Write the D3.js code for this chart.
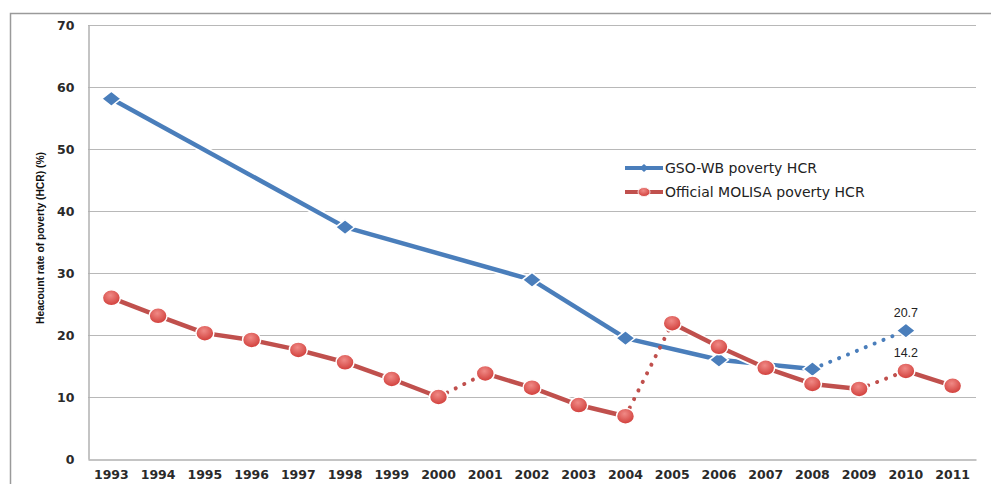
<!DOCTYPE html>
<html>
<script src='https://d3js.org/d3.v7.min.js'></script>
<style>
 body {margin: 0; background: #fff;}
 text {font-family: 'DejaVu Sans', Verdana, sans-serif;}
</style>
<body onload='init()'>
<svg width=991 height=484></svg>
<script>
var years = ['1993','1994','1995','1996','1997','1998','1999','2000','2001','2002','2003','2004','2005','2006','2007','2008','2009','2010','2011'];
var yTicks = [0,10,20,30,40,50,60,70];
// GSO-WB series (null = no survey that year)
var gsoWb = [58.1,null,null,null,null,37.4,null,null,null,28.9,null,19.5,null,16.0,null,14.5,null,20.7,null];
// Official MOLISA series
var molisa = [26.0,23.1,20.3,19.2,17.6,15.6,12.9,10.0,13.8,11.5,8.7,6.9,21.9,18.1,14.7,12.1,11.3,14.2,11.8];
// segments drawn dotted: [fromYear, toYear]
var gsoDotted = [['2008','2010']];
var molisaDotted = [['2000','2001'],['2004','2005'],['2009','2010']];
var labels = [{year:'2010', value:20.7, text:'20.7'}, {year:'2010', value:14.2, text:'14.2'}];

function init() {
 var svg = d3.select('svg');
 var x = d3.scaleBand().domain(years).range([88, 976]);
 var y = d3.scaleLinear().domain([0, 70]).range([459, 25]);
 var cx = function (yr) { return x(yr) + x.bandwidth() / 2; };
 var diamond = function (w, h) { return 'M0,' + (-h/2) + 'L' + (w/2) + ',0L0,' + (h/2) + 'L' + (-w/2) + ',0Z'; };

 var defs = svg.append('defs');
 var rg = defs.append('radialGradient').attr('id', 'redball').attr('cx', '45%').attr('cy', '35%').attr('r', '65%');
 rg.append('stop').attr('offset', '0%').attr('stop-color', '#f08a86');
 rg.append('stop').attr('offset', '100%').attr('stop-color', '#d03c38');

 // outer frame
 svg.append('path').attr('d', 'M10.5,484 L10.5,13.5 L991,13.5')
  .attr('fill', 'none').attr('stroke', '#9a9a9a').attr('stroke-width', 1.5);

 // gridlines
 svg.append('g').selectAll('line').data(yTicks.slice(1)).enter().append('line')
  .attr('x1', 88).attr('x2', 976)
  .attr('y1', function (d) { return Math.round(y(d)) + 0.5; })
  .attr('y2', function (d) { return Math.round(y(d)) + 0.5; })
  .attr('stroke', '#b8b8b8').attr('stroke-width', 1.2);

 // axes
 var ax = svg.append('g').attr('transform', 'translate(0,459.5)')
  .call(d3.axisBottom(x).tickSize(0).tickPadding(11));
 ax.select('.domain').attr('stroke', '#b0b0b0').attr('stroke-width', 1.5);
 ax.selectAll('text').attr('font-size', 12.5).attr('font-weight', 'bold').attr('fill', '#2a2a2a');

 var ay = svg.append('g').attr('transform', 'translate(88.5,0)')
  .call(d3.axisLeft(y).tickValues(yTicks).tickSize(0).tickPadding(14));
 ay.select('.domain').attr('stroke', '#b0b0b0').attr('stroke-width', 1.5);
 ay.selectAll('text').attr('font-size', 12.5).attr('font-weight', 'bold').attr('fill', '#2a2a2a');

 svg.append('text').attr('transform', 'translate(44,238) rotate(-90)')
  .attr('text-anchor', 'middle').attr('font-size', 11).attr('font-weight', 'bold')
  .attr('fill', '#111').style('font-family', "'Liberation Sans', Arial, sans-serif")
  .attr('textLength', 172).attr('lengthAdjust', 'spacingAndGlyphs')
  .text('Heacount rate of poverty (HCR) (%)');

 function draw(vals, dotted, color, kind) {
  var pts = years.map(function (yr, i) { return {year: yr, v: vals[i]}; })
   .filter(function (d) { return d.v !== null; });
  var isDot = function (a, b) {
   return dotted.some(function (s) { return s[0] === a.year && s[1] === b.year; });
  };
  var g = svg.append('g');
  var segs = [];
  for (var i = 1; i < pts.length; i++) segs.push({a: pts[i - 1], b: pts[i], dot: isDot(pts[i - 1], pts[i])});
  // white halo under solid segments
  g.selectAll('.halo').data(segs.filter(function (s) { return !s.dot; })).enter().append('line')
   .attr('x1', function (s) { return cx(s.a.year); }).attr('y1', function (s) { return y(s.a.v); })
   .attr('x2', function (s) { return cx(s.b.year); }).attr('y2', function (s) { return y(s.b.v); })
   .attr('stroke', '#fff').attr('stroke-width', 8);
  g.selectAll('.seg').data(segs).enter().append('line')
   .attr('x1', function (s) { return cx(s.a.year); }).attr('y1', function (s) { return y(s.a.v); })
   .attr('x2', function (s) { return cx(s.b.year); }).attr('y2', function (s) { return y(s.b.v); })
   .attr('stroke', color)
   .attr('stroke-width', function (s) { return s.dot ? 4 : 4.5; })
   .attr('stroke-linecap', function (s) { return s.dot ? 'round' : 'butt'; })
   .attr('stroke-dasharray', function (s) { return s.dot ? '0.1,9.5' : null; });
  if (kind === 'diamond') {
   g.selectAll('.m').data(pts).enter().append('path')
    .attr('d', diamond(19, 15))
    .attr('transform', function (d) { return 'translate(' + cx(d.year) + ',' + y(d.v) + ')'; })
    .attr('fill', color).attr('stroke', '#fff').attr('stroke-width', 1.5);
  } else {
   g.selectAll('.m').data(pts).enter().append('ellipse')
    .attr('cx', function (d) { return cx(d.year); }).attr('cy', function (d) { return y(d.v); })
    .attr('rx', 9).attr('ry', 8)
    .attr('fill', 'url(#redball)').attr('stroke', '#fff').attr('stroke-width', 1.5);
  }
 }
 draw(gsoWb, gsoDotted, '#4a7ebb', 'diamond');
 draw(molisa, molisaDotted, '#c0504d', 'circle');

 svg.append('g').selectAll('text').data(labels).enter().append('text')
  .attr('x', function (d) { return cx(d.year); }).attr('y', function (d) { return y(d.value) - 14; })
  .attr('text-anchor', 'middle').attr('font-size', 12.5).attr('fill', '#222')
  .style('font-family', "'Liberation Sans', Arial, sans-serif")
  .text(function (d) { return d.text; });

 // legend
 var leg = svg.append('g');
 var items = [{name: 'GSO-WB poverty HCR', color: '#4a7ebb', kind: 'diamond'},
  {name: 'Official MOLISA poverty HCR', color: '#c0504d', kind: 'circle'}];
 items.forEach(function (it, i) {
  var yy = 168 + i * 24;
  leg.append('line').attr('x1', 625).attr('x2', 663).attr('y1', yy).attr('y2', yy)
   .attr('stroke', it.color).attr('stroke-width', 4);
  if (it.kind === 'diamond') {
   leg.append('path').attr('d', diamond(9, 8))
    .attr('transform', 'translate(644,' + yy + ')').attr('fill', it.color);
  } else {
   leg.append('ellipse').attr('cx', 644).attr('cy', yy).attr('rx', 6).attr('ry', 4.5)
    .attr('fill', 'url(#redball)').attr('stroke', '#fff').attr('stroke-width', 0.8);
  }
  leg.append('text').attr('x', 665).attr('y', yy + 5).attr('font-size', 14).attr('fill', '#222')
   .text(it.name);
 });
}
</script>
</body>
</html>
